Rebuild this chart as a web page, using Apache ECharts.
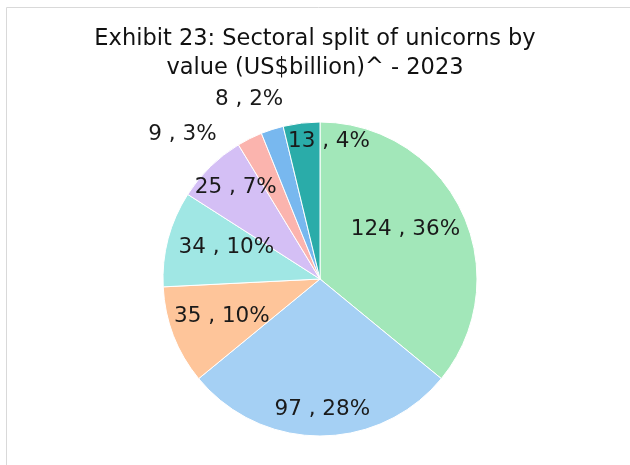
<!DOCTYPE html>
<html>
<head>
<meta charset="utf-8">
<script src="https://cdn.jsdelivr.net/npm/echarts@6/dist/echarts.min.js"></script>
<style>
html,body{margin:0;padding:0;background:#fff;}
#chart{width:630px;height:465px;}
</style>
</head>
<body>
<div id="chart"></div>
<script>
// Data
var categories = ['Sector A', 'Sector B', 'Sector C', 'Sector D', 'Sector E', 'Sector F', 'Sector G', 'Sector H'];
var values = [124, 97, 35, 34, 25, 9, 8, 13];
var titleLines = ['Exhibit 23: Sectoral split of unicorns by', 'value (US$billion)^ - 2023'];

// Styles
var colors = ['#a2e7b9', '#a5d0f4', '#fec59a', '#a0e7e4', '#d4bff5', '#fbb4ae', '#78b8ef', '#2aaca9'];
var CX = 320, CY = 279, R = 157;
// label placement: [angle offset from slice middle (deg), distance as fraction of radius]
var labelPlace = [[-5, 0.63], [-1, 0.83], [0, 0.67], [4, 0.63], [1.6, 0.79], [-17, 1.27], [-3.8, 1.23], [10.5, 0.88]];

var total = values.reduce(function (a, b) { return a + b; }, 0);
var midAngles = [];
var acc = 0;
values.forEach(function (v) {
  midAngles.push((acc + v / 2) / total * 360);
  acc += v;
});

var chart = echarts.init(document.getElementById('chart'));
chart.setOption({
  animation: false,
  graphic: [{
    type: 'rect',
    shape: { x: 6.5, y: 7.5, width: 700, height: 500 },
    style: { fill: 'none', stroke: '#d9d9d9', lineWidth: 1 },
    silent: true
  }],
  title: {
    text: titleLines.join('\n'),
    left: 'center',
    top: 20,
    textStyle: { fontFamily: '"DejaVu Sans", sans-serif', fontSize: 22.5, fontWeight: 'normal', color: '#111111', lineHeight: 29 }
  },
  series: [{
    type: 'pie',
    center: [CX, CY],
    radius: [0, R],
    startAngle: 90,
    clockwise: true,
    percentPrecision: 0,
    data: categories.map(function (c, i) {
      return { name: c, value: values[i], itemStyle: { color: colors[i] } };
    }),
    itemStyle: { borderColor: '#ffffff', borderWidth: 1 },
    label: {
      show: true,
      position: 'inside',
      formatter: '{c} , {d}%',
      fontFamily: '"DejaVu Sans", sans-serif',
      fontSize: 21.5,
      color: '#1a1a1a'
    },
    labelLine: { show: false },
    labelLayout: function (params) {
      var i = params.dataIndex;
      var p = labelPlace[i];
      var a = (midAngles[i] + p[0]) * Math.PI / 180;
      var d = p[1] * R;
      return {
        x: CX + d * Math.sin(a),
        y: CY - d * Math.cos(a),
        align: 'center',
        verticalAlign: 'middle'
      };
    }
  }]
});
</script>
</body>
</html>
